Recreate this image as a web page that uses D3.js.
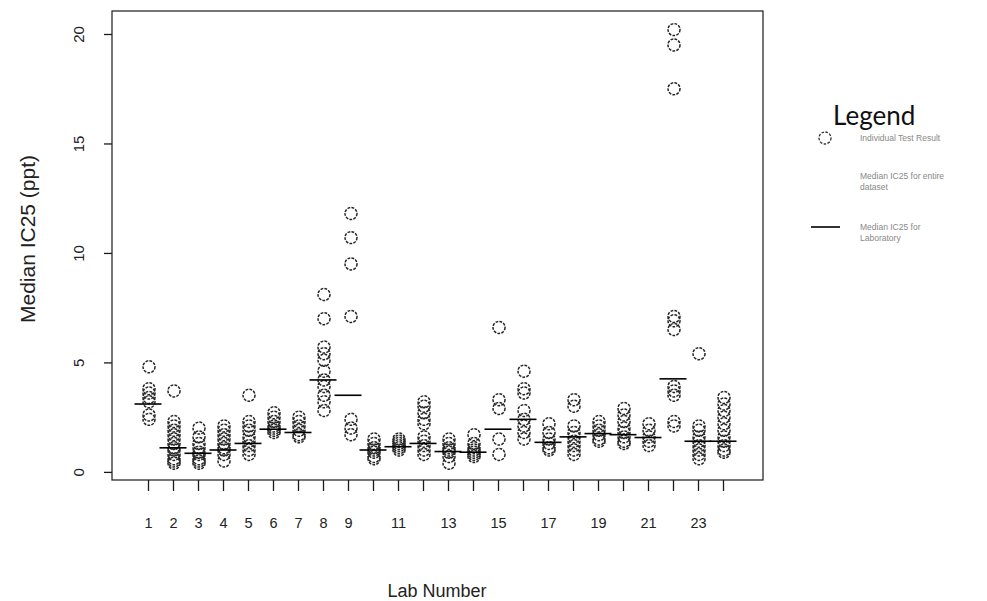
<!DOCTYPE html>
<html>
<head>
<meta charset="utf-8">
<script src="https://cdn.jsdelivr.net/npm/d3@7"></script>
<style>
  body { margin: 0; background: #fff; }
  svg { display: block; }
</style>
</head>
<body>
<div id="chart"></div>
<script>
// lab numbers on the x axis
var labs = d3.range(1, 25);
var tickLabels = [1, 2, 3, 4, 5, 6, 7, 8, 9, 11, 13, 15, 17, 19, 21, 23];
var yTicks = [0, 5, 10, 15, 20];

// individual test results per lab (ppt)
var results = [
  [4.8, 3.8, 3.6, 3.4, 3.2, 2.6, 2.4],
  [3.7, 2.3, 2.1, 1.9, 1.7, 1.5, 1.3, 1.1, 1.0, 0.8, 0.6, 0.5, 0.4],
  [2.0, 1.6, 1.3, 1.1, 0.9, 0.8, 0.6, 0.5, 0.4],
  [2.1, 1.9, 1.7, 1.5, 1.3, 1.1, 1.0, 0.8, 0.5],
  [3.5, 2.3, 2.1, 1.9, 1.6, 1.4, 1.2, 1.0, 0.8],
  [2.7, 2.5, 2.3, 2.1, 2.0, 1.9, 1.8],
  [2.5, 2.3, 2.1, 1.9, 1.7, 1.6],
  [8.1, 7.0, 5.7, 5.4, 5.1, 4.6, 4.2, 3.9, 3.5, 3.2, 2.8],
  [11.8, 10.7, 9.5, 7.1, 2.4, 2.0, 1.7],
  [1.5, 1.3, 1.1, 1.0, 0.9, 0.7, 0.6],
  [1.5, 1.4, 1.3, 1.2, 1.1, 1.0],
  [3.2, 3.0, 2.7, 2.4, 2.2, 1.6, 1.4, 1.2, 1.0, 0.8],
  [1.5, 1.3, 1.1, 1.0, 0.9, 0.7, 0.4],
  [1.7, 1.3, 1.1, 1.0, 0.9, 0.8, 0.7],
  [6.6, 3.3, 2.9, 1.5, 0.8],
  [4.6, 3.8, 3.6, 2.8, 2.4, 2.1, 1.8, 1.5],
  [2.2, 1.8, 1.5, 1.3, 1.1, 1.0],
  [3.3, 3.0, 2.1, 1.8, 1.6, 1.4, 1.2, 1.0, 0.8],
  [2.3, 2.1, 1.9, 1.7, 1.5, 1.4],
  [2.9, 2.6, 2.3, 2.0, 1.8, 1.6, 1.4, 1.3],
  [2.2, 1.9, 1.6, 1.4, 1.2],
  [20.2, 19.5, 17.5, 7.1, 6.9, 6.5, 3.9, 3.7, 3.5, 2.3, 2.1],
  [5.4, 2.1, 1.9, 1.6, 1.4, 1.2, 1.0, 0.8, 0.6],
  [3.4, 3.1, 2.8, 2.5, 2.2, 1.9, 1.6, 1.4, 1.2, 1.0, 0.9]
];

// median IC25 per laboratory
var medians = [3.1, 1.1, 0.85, 1.0, 1.3, 1.95, 1.8, 4.2, 3.5, 1.0, 1.15, 1.3,
  0.93, 0.9, 1.95, 2.4, 1.35, 1.6, 1.75, 1.7, 1.57, 4.25, 1.4, 1.4];

var legendItems = [
  {type: 'circle', lines: ['Individual Test Result']},
  {type: 'none', lines: ['Median IC25 for entire', 'dataset']},
  {type: 'line', lines: ['Median IC25 for', 'Laboratory']}
];

var width = 987, height = 601;
var svg = d3.select('#chart').append('svg')
    .attr('width', width)
    .attr('height', height);

var x = d3.scaleLinear().domain([-0.44, 25.6]).range([112, 763]);
var y = d3.scaleLinear().domain([-0.37, 21.05]).range([480, 11]);

var ink = '#1a1a1a';

// plot box
svg.append('rect')
    .attr('x', x.range()[0]).attr('y', y.range()[1])
    .attr('width', x.range()[1] - x.range()[0])
    .attr('height', y.range()[0] - y.range()[1])
    .attr('fill', 'none').attr('stroke', ink).attr('stroke-width', 1.2);

// x axis
var xAxis = svg.append('g')
    .attr('transform', 'translate(0,' + y.range()[0] + ')')
    .call(d3.axisBottom(x).tickValues(labs).tickSize(11).tickSizeOuter(0)
      .tickFormat(function(d) { return tickLabels.indexOf(d) >= 0 ? d : ''; }));
xAxis.select('.domain').remove();
xAxis.selectAll('line').attr('stroke', ink).attr('stroke-width', 1.3);
xAxis.selectAll('text')
    .attr('y', 38)
    .attr('font-family', 'Liberation Sans, Arial, sans-serif')
    .attr('font-size', 14.5)
    .attr('fill', '#222');

// y axis
var yAxis = svg.append('g')
    .attr('transform', 'translate(' + x.range()[0] + ',0)')
    .call(d3.axisLeft(y).tickValues(yTicks).tickSize(8).tickSizeOuter(0));
yAxis.select('.domain').remove();
yAxis.selectAll('line').attr('stroke', ink).attr('stroke-width', 1.3);
yAxis.selectAll('text')
    .attr('x', 0).attr('dy', 0)
    .attr('transform', 'translate(-34,0) rotate(-90)')
    .attr('text-anchor', 'middle')
    .attr('dominant-baseline', 'central')
    .attr('font-family', 'Liberation Sans, Arial, sans-serif')
    .attr('font-size', 15)
    .attr('fill', '#222');

// axis titles
svg.append('text')
    .attr('x', 437).attr('y', 597)
    .attr('text-anchor', 'middle')
    .attr('font-family', 'Liberation Sans, Arial, sans-serif')
    .attr('font-size', 18).attr('fill', '#222')
    .text('Lab Number');

svg.append('text')
    .attr('transform', 'translate(27,239) rotate(-90)')
    .attr('text-anchor', 'middle')
    .attr('dominant-baseline', 'central')
    .attr('font-family', 'Liberation Sans, Arial, sans-serif')
    .attr('font-size', 21).attr('fill', '#222')
    .text('Median IC25 (ppt)');

// points
var pts = [];
results.forEach(function(vals, i) {
  vals.forEach(function(v) { pts.push({lab: labs[i], v: v}); });
});

svg.append('g').selectAll('circle')
    .data(pts)
    .enter().append('circle')
    .attr('cx', function(d) { return x(d.lab) + (d.lab === 9 ? 3 : 1); })
    .attr('cy', function(d) { return y(d.v); })
    .attr('r', 6)
    .attr('fill', 'none')
    .attr('stroke', '#262626')
    .attr('stroke-width', 1.5)
    .attr('stroke-dasharray', '2.8,1.2');

// lab medians
svg.append('g').selectAll('line')
    .data(medians)
    .enter().append('line')
    .attr('x1', function(d, i) { return x(labs[i]) - 13.5; })
    .attr('x2', function(d, i) { return x(labs[i]) + 13.5; })
    .attr('y1', function(d) { return y(d); })
    .attr('y2', function(d) { return y(d); })
    .attr('stroke', '#000')
    .attr('stroke-width', 1.6);

// legend
var lg = svg.append('g');
lg.append('text')
    .attr('x', 833).attr('y', 125)
    .attr('font-family', 'Lato, Open Sans, sans-serif')
    .attr('font-size', 26).attr('fill', '#111')
    .text('Legend');

var rowY = [138, 176, 227];
legendItems.forEach(function(item, i) {
  var yy = rowY[i];
  if (item.type === 'circle') {
    lg.append('circle').attr('cx', 825).attr('cy', yy).attr('r', 6)
      .attr('fill', 'none').attr('stroke', '#333').attr('stroke-width', 1.3)
      .attr('stroke-dasharray', '2.6,1.4');
  } else if (item.type === 'line') {
    lg.append('line').attr('x1', 811).attr('x2', 840).attr('y1', yy).attr('y2', yy)
      .attr('stroke', '#000').attr('stroke-width', 1.6);
  }
  item.lines.forEach(function(t, j) {
    lg.append('text')
      .attr('x', 860).attr('y', yy + 3 + j * 11)
      .attr('font-family', 'Liberation Sans, Arial, sans-serif')
      .attr('font-size', 8.5).attr('fill', '#888')
      .text(t);
  });
});
</script>
</body>
</html>
